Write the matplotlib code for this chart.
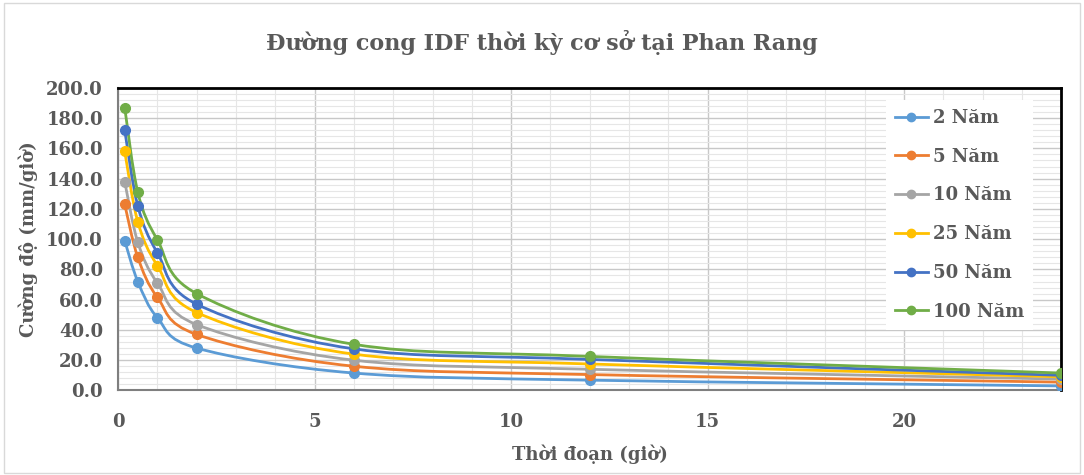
import numpy as np
import matplotlib
matplotlib.use("Agg")
import matplotlib.pyplot as plt
from matplotlib.path import Path
from matplotlib.patches import PathPatch
from matplotlib.ticker import MultipleLocator, FormatStrFormatter

# durations (hours)
durations = [1/6, 0.5, 1, 2, 6, 12, 24]

series_names = ["2 Năm", "5 Năm", "10 Năm", "25 Năm", "50 Năm", "100 Năm"]
i_2 = [99.0, 72.0, 48.0, 28.0, 11.5, 6.8, 3.0]
i_5 = [123.0, 88.0, 61.5, 37.0, 16.0, 10.5, 5.5]
i_10 = [138.0, 98.0, 71.0, 43.5, 20.0, 14.0, 7.5]
i_25 = [158.0, 111.5, 82.5, 51.5, 24.0, 17.5, 9.0]
i_50 = [172.0, 122.0, 91.0, 57.0, 27.5, 20.5, 10.0]
i_100 = [187.0, 131.0, 99.5, 64.0, 30.5, 22.5, 11.5]
all_series = [i_2, i_5, i_10, i_25, i_50, i_100]

colors = ["#5B9BD5", "#ED7D31", "#A5A5A5", "#FFC000", "#4472C4", "#70AD47"]

font = "DejaVu Serif"
txt = "#595959"


def smooth_path(xs, ys):
    # Excel-like smoothed line: cubic bezier through the points
    pts = np.column_stack([xs, ys])
    n = len(pts)
    verts = [pts[0]]
    codes = [Path.MOVETO]
    for k in range(n - 1):
        p0 = pts[k - 1] if k > 0 else pts[k]
        p1 = pts[k]
        p2 = pts[k + 1]
        p3 = pts[k + 2] if k + 2 < n else pts[k + 1]
        c1 = p1 + (p2 - p0) / 6.0
        c2 = p2 - (p3 - p1) / 6.0
        verts += [c1, c2, p2]
        codes += [Path.CURVE4] * 3
    return Path(verts, codes)


fig = plt.figure(figsize=(10.84, 4.75), dpi=100)
ax = fig.add_axes([0.109, 0.178, 0.870, 0.637])

for name, vals, c in zip(series_names, all_series, colors):
    patch = PathPatch(smooth_path(np.array(durations), np.array(vals)),
                      facecolor="none", edgecolor=c, lw=2.0, zorder=3)
    ax.add_patch(patch)
    ax.plot(durations, vals, ls="none", marker="o", ms=7, color=c, zorder=4)
    # proxy for legend
    ax.plot([], [], color=c, lw=2.0, marker="o", ms=6, label=name)

ax.set_xlim(0, 24)
ax.set_ylim(0, 200)
ax.xaxis.set_major_locator(MultipleLocator(5))
ax.xaxis.set_minor_locator(MultipleLocator(1))
ax.yaxis.set_major_locator(MultipleLocator(20))
ax.yaxis.set_minor_locator(MultipleLocator(4))
ax.yaxis.set_major_formatter(FormatStrFormatter("%.1f"))

ax.grid(which="major", color="#C8C8C8", lw=1.0)
ax.grid(which="minor", color="#E6E6E6", lw=0.8)
ax.set_axisbelow(True)

ax.tick_params(which="both", length=0)
ax.tick_params(axis="both", labelsize=13, labelcolor=txt)
ax.tick_params(axis="x", pad=16)
ax.tick_params(axis="y", pad=11)
for lab in ax.get_xticklabels() + ax.get_yticklabels():
    lab.set_fontfamily(font)
    lab.set_fontweight("bold")

for side in ["top", "right"]:
    ax.spines[side].set_color("black")
    ax.spines[side].set_linewidth(2.0)
for side in ["left", "bottom"]:
    ax.spines[side].set_color("#7F7F7F")
    ax.spines[side].set_linewidth(1.5)

ax.set_xlabel("Thời đoạn (giờ)", fontsize=13, color=txt, family=font,
              fontweight="bold", labelpad=10)
ax.set_ylabel("Cường độ (mm/giờ)", fontsize=13, color=txt, family=font,
              fontweight="bold", labelpad=6)

fig.suptitle("Đường cong IDF thời kỳ cơ sở tại Phan Rang", y=0.937,
             fontsize=16, color=txt, family=font, fontweight="bold")

leg = ax.legend(loc="upper right", bbox_to_anchor=(0.98, 0.99), frameon=True,
                fancybox=False, edgecolor="none", facecolor="white",
                framealpha=1.0, handlelength=1.8, handletextpad=0.3,
                labelspacing=1.15, borderpad=0.5,
                prop={"family": font, "weight": "bold", "size": 13})
for t in leg.get_texts():
    t.set_color(txt)

# light chart border
fig.patches.append(plt.Rectangle((0.004, 0.004), 0.992, 0.99, transform=fig.transFigure,
                                 fill=False, edgecolor="#D9D9D9", lw=1.0))

plt.savefig("out.png", dpi=100)
